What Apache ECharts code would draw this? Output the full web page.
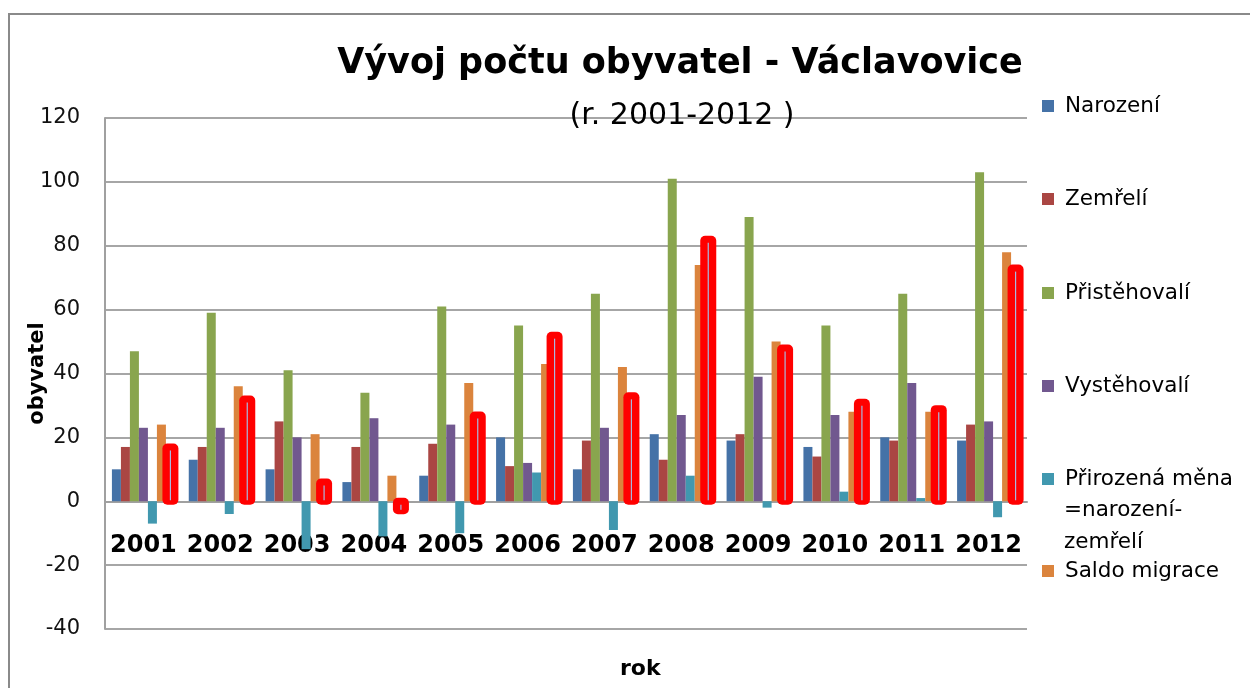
<!DOCTYPE html>
<html>
<head>
<meta charset="utf-8">
<script src="https://cdn.jsdelivr.net/npm/echarts@6/dist/echarts.min.js"></script>
<style>
  html, body { margin: 0; padding: 0; background: #fff; }
  #graf { width: 1250px; height: 688px; }
</style>
</head>
<body>
<div id="graf"></div>
<script>
const years = ['2001','2002','2003','2004','2005','2006','2007','2008','2009','2010','2011','2012']

const narozeni    = [10, 13, 10,  6,  8, 20, 10, 21, 19, 17, 20, 19]
const zemreli     = [17, 17, 25, 17, 18, 11, 19, 13, 21, 14, 19, 24]
const pristehovali = [47, 59, 41, 34, 61, 55, 65, 101, 89, 55, 65, 103]
const vystehovali = [23, 23, 20, 26, 24, 12, 23, 27, 39, 27, 37, 25]
const prirozena   = [-7, -4, -15, -11, -10, 9, -9, 8, -2, 3, 1, -5]
const saldo       = [24, 36, 21,  8, 37, 43, 42, 74, 50, 28, 28, 78]
const celkem      = [17, 32,  6, -3, 27, 52, 33, 82, 48, 31, 29, 73]

const yTicks = { min: -40, max: 120, interval: 20 }

const font = 'DejaVu Sans'
const prirozenaName = 'Přirozená měna =narození-zemřelí'

// jednotlivé legendy, každá zvlášť (Excel je má rozházené po výšce)
const legendItems = [
    ['Narození', 106],
    ['Zemřelí', 199],
    ['Přistěhovalí', 293],
    ['Vystěhovalí', 386],
    [prirozenaName, 479],
    ['Saldo migrace', 571]
]

const BAR_W = 9

function bar(name, data, color) {
    return {
        name: name,
        type: 'bar',
        data: data,
        barWidth: BAR_W,
        barGap: '0%',
        itemStyle: { color: color }
    }
}

// červený sloupec s tlustým rámečkem (jako v Excelu)
function renderCelkem(params, api) {
    let base = api.coord([api.value(0), 0])
    let top = api.coord([api.value(0), api.value(1)])
    let cx = base[0] + 3 * BAR_W
    let y0 = Math.min(base[1], top[1])
    let y1 = Math.max(base[1], top[1])
    return {
        type: 'group',
        children: [
            {
                type: 'rect',
                shape: { x: cx - 8, y: y0 - 3.5, width: 16, height: y1 - y0 + 7, r: 5 },
                style: { fill: '#ff0000' }
            },
            {
                type: 'line',
                shape: { x1: cx, y1: y0 + 3.5, x2: cx, y2: Math.max(y0 + 3.5, y1 - 1) },
                style: { stroke: '#a9b8e0', lineWidth: 1.2 }
            }
        ]
    }
}

let myChart = echarts.init(document.getElementById('graf'))

// osa x leží na nule -> posun od spodního okraje gridu
const gridTop = 118, gridBottom = 59
const plotH = 688 - gridTop - gridBottom
const zeroOffset = -plotH * (0 - yTicks.min) / (yTicks.max - yTicks.min)

let option = {
    animation: false,
    backgroundColor: '#fff',
    title: [
        {
            text: 'Vývoj počtu obyvatel - Václavovice',
            left: 675, top: 41, textAlign: 'center',
            textStyle: { fontFamily: font, fontSize: 35, fontWeight: 'bold', color: '#000' }
        },
        {
            text: '(r. 2001-2012 )',
            left: 677, top: 96, textAlign: 'center',
            textStyle: { fontFamily: font, fontSize: 30, fontWeight: 'normal', color: '#000' }
        }
    ],
    legend: legendItems.map(it => ({
        data: [it[0]],
        orient: 'vertical',
        left: 1042,
        top: it[1] - 12,
        padding: 0,
        icon: 'rect',
        itemWidth: 12,
        itemHeight: 12,
        formatter: n => n === prirozenaName ? 'Přirozená měna' : n,
        textStyle: { fontFamily: font, fontSize: 21.5, color: '#000', lineHeight: 24, padding: [0, 0, 0, 6] }
    })),
    grid: { left: 105, right: 223, top: gridTop, bottom: gridBottom },
    xAxis: {
        type: 'category',
        data: years,
        offset: zeroOffset,
        axisLine: { onZero: false, lineStyle: { color: '#a0a0a0', width: 2 } },
        axisTick: { show: false },
        axisLabel: {
            interval: 0,
            margin: 33,
            fontFamily: font, fontSize: 24, fontWeight: 'bold', color: '#000'
        }
    },
    yAxis: {
        type: 'value',
        min: yTicks.min, max: yTicks.max, interval: yTicks.interval,
        name: 'obyvatel',
        nameLocation: 'middle',
        nameRotate: 90,
        nameGap: 57,
        nameMoveOverlap: false,
        nameTextStyle: { fontFamily: font, fontSize: 21, fontWeight: 'bold', color: '#000' },
        axisLine: { show: true, lineStyle: { color: '#a0a0a0', width: 2 } },
        axisTick: { show: false },
        axisLabel: { margin: 25, fontFamily: font, fontSize: 21, color: '#111' },
        splitLine: { lineStyle: { color: '#a6a6a6', width: 2 } }
    },
    graphic: [
        {
            type: 'rect', silent: true, z: 100,
            shape: { x: 9, y: 14, width: 1300, height: 720 },
            style: { fill: 'none', stroke: '#8a8a8a', lineWidth: 2 }
        },
        {
            type: 'text', left: 1064, top: 499,
            style: { text: '=narození-', font: '21.5px "DejaVu Sans"', fill: '#000' }
        },
        {
            type: 'text', left: 1064, top: 531,
            style: { text: 'zemřelí', font: '21.5px "DejaVu Sans"', fill: '#000' }
        },
        {
            type: 'text', left: 620, top: 658,
            style: { text: 'rok', font: 'bold 22px "DejaVu Sans"', fill: '#000' }
        }
    ],
    series: [
        bar('Narození', narozeni, '#4572a7'),
        bar('Zemřelí', zemreli, '#aa4643'),
        bar('Přistěhovalí', pristehovali, '#89a54e'),
        bar('Vystěhovalí', vystehovali, '#71588f'),
        bar(prirozenaName, prirozena, '#4198af'),
        bar('Saldo migrace', saldo, '#db843d'),
        // drží místo sedmého sloupce ve skupině, kreslí ho custom série
        {
            name: 'Celkový přírůstek',
            type: 'bar',
            data: celkem,
            barWidth: BAR_W,
            barGap: '0%',
            itemStyle: { color: 'rgba(0,0,0,0)' }
        },
        {
            name: 'Celkový přírůstek',
            type: 'custom',
            renderItem: renderCelkem,
            data: celkem.map((v, i) => [i, v]),
            encode: { x: 0, y: 1 },
            z: 3
        }
    ]
}

myChart.setOption(option)
</script>
</body>
</html>
